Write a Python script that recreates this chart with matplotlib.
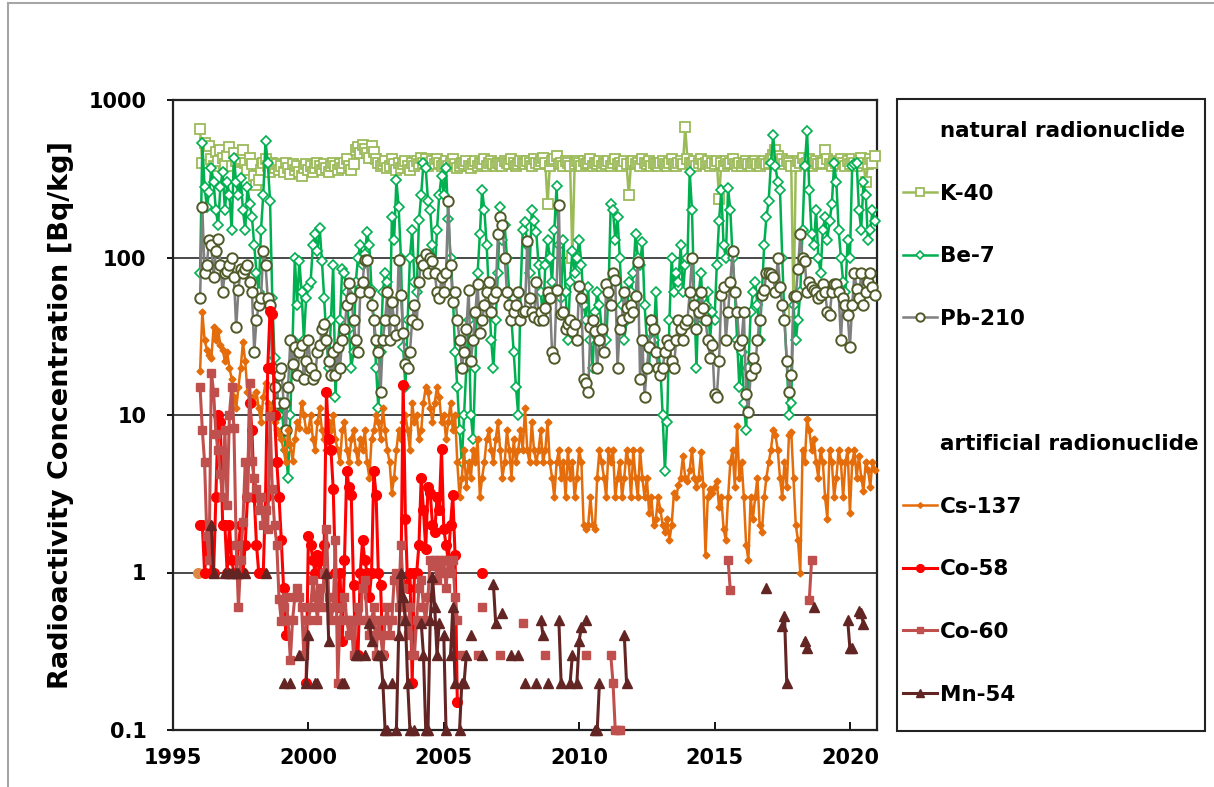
import numpy as np
import matplotlib
matplotlib.use('Agg')
import matplotlib.pyplot as plt
from matplotlib.lines import Line2D
from matplotlib.patches import Rectangle
from matplotlib.ticker import FuncFormatter, NullLocator

plt.rcParams['font.family'] = ['DejaVu Sans']

N = None

# monthly samples, Jan 1996 .. Dec 2020
start_year = 1996
n_months = 300

k40 = [
    650, 400, 530, 450, 510, 420, 380, 470, 410, 480, 430, 390,  # 1996
    440, 500, 380, 460, 410, 350, 420, 480, 400, 360, 430, 390,  # 1997
    330, 290, 310, 360, 400, 420, 380, 350, 400, 370, 390, 360,  # 1998
    380, 350, 400, 370, 340, 390, 360, 380, 350, 330, 370, 390,  # 1999
    360, 380, 350, 370, 400, 380, 360, 390, 370, 350, 380, 400,  # 2000
    380, 360, 390, 370, 400, 420, 380, 360, 390, 480, 500, 460,  # 2001
    520, 490, 460, 430, 510, 470, 420, 400, 380, 390, 410, 370,  # 2002
    380, 420, 390, 360, 400, 370, 390, 410, 380, 360, 400, 380,  # 2003
    410, 390, 430, 400, 420, 380, 400, 410, 390, 420, 400, 380,  # 2004
    390, 410, 380, 400, 420, 390, 370, 380, 400, 390, 410, 380,  # 2005
    370, 390, 410, 380, 400, 390, 420, 380, 400, 410, 390, 380,  # 2006
    400, 390, 380, 410, 400, 390, 420, 400, 380, 390, 410, 400,  # 2007
    390, 410, 400, 380, 420, 400, 390, 410, 430, 400, 220, 380,  # 2008
    410, 420, 440, 390, 400, 380, 410, 400, 380, 100, 390, 410,  # 2009
    400, 380, 410, 390, 400, 420, 380, 400, 390, 410, 380, 400,  # 2010
    390, 410, 380, 400, 420, 390, 400, 380, 410, 390, 250, 400,  # 2011
    410, 390, 400, 380, 420, 400, 390, 410, 380, 400, 390, 380,  # 2012
    400, 410, 390, 380, 400, 420, 390, 380, 400, 410, 390, 670,  # 2013
    420, 400, 390, 410, 380, 400, 420, 390, 400, 410, 380, 400,  # 2014
    390, 410, 235, 400, 380, 410, 390, 400, 420, 390, 380, 400,  # 2015
    380, 400, 410, 390, 380, 400, 410, 390, 380, 400, 410, 390,  # 2016
    400, 420, 450, 480, 440, 400, 420, 390, 410, 400, 380, 45,   # 2017
    380, 410, 400, 430, 390, 400, 420, 380, 400, 410, 390, 400,  # 2018
    400, 480, 420, 390, 380, 410, 400, 390, 420, 400, 380, 410,  # 2019
    390, 420, 400, 380, 410, 430, 400, 300, 390, 420, 400, 440,  # 2020
]

be7 = [
    80, 530, 280, 210, 260, 370, 300, 200, 160, 280, 350, 200,
    300, 250, 150, 430, 300, 250, 320, 200, 150, 280, 220, 180,
    120, 80, 60, 150, 250, 550, 400, 230, 55, 23, 15, 10,
    12, 8, 6, 4, 10, 30, 100, 50, 95, 60, 30, 55,
    65, 70, 120, 140, 110, 155, 95, 55, 30, 20, 40, 90,
    13, 27, 40, 85, 80, 60, 35, 20, 25, 70, 100, 120,
    90, 105, 145, 120, 62, 40, 20, 11, 25, 60, 80, 70,
    30, 180, 130, 310, 210, 100, 27, 15, 40, 100, 150, 70,
    60, 172, 250, 400, 370, 230, 200, 120, 80, 150, 250, 330,
    250, 370, 175, 100, 60, 25, 15, 8, 5, 10, 20, 40,
    10, 7, 20, 80, 140, 270, 200, 120, 60, 30, 20, 40,
    80, 210, 130, 160, 100, 60, 40, 25, 15, 10, 60, 150,
    168, 120, 80, 200, 170, 145, 90, 60, 40, 90, 130, 100,
    70, 150, 285, 120, 55, 130, 60, 30, 70, 110, 80, 100,
    130, 90, 50, 40, 65, 30, 20, 45, 60, 50, 35, 25,
    30, 60, 220, 200, 130, 180, 100, 50, 30, 40, 70, 60,
    80, 140, 100, 90, 125, 50, 30, 20, 40, 30, 60, 25,
    20, 10, 4.4, 9, 40, 100, 60, 80, 70, 120, 60, 90,
    100, 350, 200, 55, 20, 60, 80, 40, 50, 60, 30, 45,
    40, 90, 170, 270, 120, 100, 275, 200, 100, 60, 30, 15,
    25, 12, 8, 20, 45, 60, 70, 50, 30, 60, 120, 180,
    230, 400, 600, 380, 300, 270, 100, 40, 22, 10, 12, 50,
    30, 40, 60, 150, 380, 640, 270, 140, 120, 200, 100, 80,
    150, 180, 130, 170, 220, 400, 300, 150, 100, 70, 60, 130,
    100, 380, 390, 400, 200, 150, 300, 250, 130, 150, 200, 170,
]

pb210 = [
    55, 210, 80, 90, 130, 120, 75, 110, 132, 90, 60, 80,
    82, 90, 100, 75, 36, 62, 85, 80, 85, 90, 70, 60,
    25, 40, 50, 55, 110, 90, 55, 50, 20, 15, 12, 18,
    20, 12, 8, 15, 30, 21, 27, 18, 25, 28, 17, 22,
    30, 20, 17, 18, 25, 28, 35, 38, 30, 22, 18, 25,
    18, 27, 20, 30, 35, 50, 69, 55, 40, 30, 25, 60,
    70, 97, 97, 60, 50, 40, 30, 25, 14, 30, 40, 60,
    30, 52, 40, 32, 97, 58, 33, 21, 20, 25, 40, 50,
    38, 70, 97, 90, 105, 80, 100, 95, 80, 60, 55, 75,
    60, 80, 230, 90, 52, 60, 40, 30, 20, 25, 35, 62,
    22, 30, 45, 68, 33, 40, 50, 60, 70, 45, 55, 60,
    140, 180, 160, 100, 60, 50, 40, 45, 50, 60, 40, 45,
    46, 128, 55, 45, 42, 70, 40, 45, 40, 48, 60, 55,
    25, 23, 62, 216, 44, 45, 35, 38, 40, 34, 38, 30,
    66, 55, 17, 16, 14, 36, 40, 34, 20, 30, 35, 25,
    68, 60, 50, 80, 72, 20, 35, 40, 60, 48, 42, 50,
    45, 57, 93, 17, 30, 13, 20, 27, 40, 35, 25, 20,
    18, 20, 25, 30, 28, 22, 20, 30, 40, 35, 30, 38,
    40, 60, 100, 50, 35, 45, 60, 48, 40, 30, 23, 28,
    13.5, 13, 22, 58, 65, 30, 45, 70, 110, 60, 45, 28,
    30, 45, 13.5, 10.5, 18, 23, 20, 30, 40, 58, 62, 80,
    80, 78, 75, 60, 100, 65, 50, 40, 22, 14, 18, 57,
    57, 85, 140, 100, 95, 60, 70, 65, 62, 60, 55, 58,
    68, 60, 45, 43, 60, 68, 68, 60, 30, 55, 50, 43,
    27, 50, 80, 63, 55, 80, 50, 60, 70, 80, 65, 58,
]

cs137 = [
    19, 45, 30, 26, 24, 23, 36, 30, 34, 28, 26, 22,
    25, 20, 17, 13, 11, 15, 20, 29, 22, 14, 12, 13,
    12, 14, 11, 9, 13, 16, 12, 10, 11, 9, 8, 7.6,
    7, 6, 5, 8, 6.5, 5.1, 7, 9, 8.3, 12, 10, 8,
    8, 10, 7, 6, 9, 11, 8, 7, 6, 9, 8, 10,
    7, 6, 5, 8, 9, 6, 5, 7, 8, 6, 5, 7,
    6, 8, 5, 4, 7, 8, 10, 9, 7, 11, 8, 6,
    5, 3.2, 4, 6, 8, 7, 9, 10, 8, 6, 12, 9,
    10, 7, 8, 12, 15, 14, 11, 9, 12, 15, 13, 9,
    10, 7, 9, 12, 8, 10, 5, 3, 4, 6, 3.5, 5,
    4, 6, 5, 7, 3, 4, 5, 7, 8, 6, 5, 7,
    9, 6, 4, 5, 8, 6, 4, 7, 5, 6, 8, 6,
    11, 6, 5, 9, 6, 5, 6, 8, 5, 6, 9, 5,
    4, 3, 5, 6, 4, 5, 3, 6, 4, 5, 3, 4,
    6, 5, 2, 1.9, 2, 3, 2, 1.9, 4, 6, 5, 4,
    3, 6, 5, 6, 3, 4, 5, 3, 4, 6, 5, 3,
    6, 4, 3, 6, 4, 3, 4, 2.4, 3, 2, 2.2, 3,
    2.5, 2, 1.8, 2.2, 1.6, 2, 3.2, 3, 3.6, 4, 5.5, 4,
    3.8, 4.5, 6, 4, 3.5, 4, 5.8, 3.6, 1.3, 3, 3.4, 3.2,
    3.5, 3.8, 2.6, 3, 1.9, 1.6, 3, 5, 6, 3.5, 8.5, 4,
    5, 3, 1.5, 1.2, 3, 2.2, 3, 4, 2, 1.8, 3, 4,
    5, 6, 8, 7.5, 6, 4, 3, 5, 3.5, 7.5, 7.8, 4,
    2, 1.6, 1.0, 6, 5, 9.5, 8, 6, 7, 5, 4, 6,
    5, 3, 2.2, 6, 5, 3, 4, 6, 5, 3, 5, 6,
    2.4, 5, 6, 4, 5.5, 4, 3.3, 5, 4.5, 3.5, 5, 4.5,
]

# Co-58 1996-2006 (later months not detected)
co58 = [
    2, 2, 1, 1.5, 2, 1, 1, 3, 10, 9, 2, 2,
    1, 2, 1.2, 1, 1, 1.5, 2, 1, 1.5, 3, 12, 8,
    3, 1.5, 1, 1, 1, 3, 20, 46, 44, 10, 5, 3,
    1.6, 0.8, 0.4, N, N, N, N, N, N, N, N, 0.2,
    1.7, 1.5, 1.2, 1.0, 1.3, 1.0, 1.2, 1.5, 14, 7, 6, 3.4,
    1.0, 0.6, 1.0, 0.37, 1.2, 4.4, 3.5, 3.1, 0.83, 0.3, 0.3, 1.0,
    1.6, 1.2, 1.0, 0.7, 1.0, 4.4, 3.1, 1.0, 0.83, 0.3, N, N,
    N, N, N, N, N, 0.86, 15.6, 2.2, 0.8, 1.0, 0.2, 1.0,
    1.0, 1.5, 4, 2.5, 1.4, 3.5, 3.2, 2.0, 1.8, 3, 2.5, 6.1,
    1.9, 1.5, 1.2, 2.0, 3.1, 1.3, 0.15, N, N, N, N, N,
    N, N, N, N, N, 1.0, N, N, N, N, N, N,
]
first_sample_x = [1995.93]
first_sample_y = [1.0]

# Co-60 1996-2005 monthly, then scattered detections (month index, value)
co60 = [
    15, 8, 5, 1.7, 1.2, 18.6, 14, 7.6, 6, 4.2, 3, 8,
    2.7, 10, 15, 8.3, 1.5, 0.6, 1.2, 2.1, 5, 3, 16, 5.1,
    4, 3.4, 2.5, 3, 2, 2.5, 1.9, 9.8, 3.4, 2, 1.5, 0.68,
    0.49, 0.6, 0.7, 0.5, 0.28, 0.5, 0.7, 0.8, 0.7, 0.6, 0.3, 0.5,
    0.5, 0.6, 0.9, 0.7, 0.5, 0.8, 0.6, 1.0, 1.9, 0.7, 0.5, 0.6,
    1.6, 0.2, 0.5, 0.6, 0.7, 0.5, 0.4, 0.5, 0.3, 0.5, 0.6, 0.5,
    0.8, 0.9, 0.5, 0.4, 0.5, 0.6, 0.3, 0.5, 0.4, 0.3, 0.5, 0.6,
    0.4, 0.5, 0.9, 1.0, 0.6, 1.5, 0.8, 0.5, 0.4, 0.6, 0.3, 0.3,
    0.5, 0.8, 0.9, 0.6, 0.5, 0.7, 1.2, 1.1, 1.2, 0.9, 1.2, 1.0,
    1.2, 0.8, 1.2, 1.0, 1.2, 0.7, 0.5, N, 0.3, N, N, N,
]
co60_late_month = [123, 125, 133, 143, 153, 171, 182, 183, 184, 185, 186, 234, 235, 270, 271]
co60_late_value = [0.3, 0.6, 0.3, 0.48, 0.3, 0.3, 0.3, 0.2, 0.1, 0.1, 0.1, 1.2, 0.77, 0.67, 1.2]

mn54_month = [5, 6, 11, 13, 14, 16, 17, 20, 29,
              37, 40, 44, 47, 48, 51, 52, 56, 57,
              63, 64, 69, 70, 73, 75, 76, 79, 80, 81, 82, 83,
              85, 87, 88, 89, 90, 91, 92, 93, 95,
              98, 99, 100, 101, 102, 103, 104, 105, 106,
              108, 109, 111, 112, 113, 115, 116, 117, 118,
              120, 125, 130, 131, 134, 138, 141,
              144, 149, 151, 152, 154, 159, 160, 164, 165, 167,
              168, 169, 171, 175, 176, 177, 188, 189,
              251, 258, 259, 260, 268, 269, 272,
              287, 288, 289, 292, 293, 294]
mn54_value = [2.0, 1.0, 1.0, 1.0, 1.0, 1.0, 1.0, 1.0, 1.0,
              0.2, 0.2, 0.3, 0.2, 0.4, 0.2, 0.2, 1.0, 0.37,
              0.2, 0.2, 0.3, 0.3, 0.3, 0.48, 0.37, 0.3, 0.3, 0.2, 0.1, 0.1,
              0.2, 0.1, 0.4, 1.0, 0.7, 0.5, 0.2, 0.1, 0.1,
              0.48, 0.3, 0.1, 0.1, 0.5, 0.93, 0.6, 0.3, 0.48,
              0.4, 0.1, 0.3, 0.6, 0.2, 0.1, 0.2, 0.2, 0.3,
              0.4, 0.3, 0.84, 0.48, 0.55, 0.3, 0.3,
              0.2, 0.2, 0.5, 0.4, 0.2, 0.5, 0.2, 0.2, 0.3, 0.2,
              0.37, 0.45, 0.5, 0.1, 0.1, 0.2, 0.4, 0.2,
              0.8, 0.46, 0.53, 0.2, 0.37, 0.33, 0.6,
              0.5, 0.33, 0.33, 0.57, 0.55, 0.47]


def monthly(values):
    arr = np.full(n_months, np.nan)
    vals = np.array([np.nan if v is None else v for v in values], dtype=float)
    arr[:len(vals)] = vals
    return arr


def sparse(months, values, base=None):
    arr = np.full(n_months, np.nan) if base is None else base.copy()
    arr[np.array(months)] = values
    return arr


t = start_year + np.arange(n_months) / 12.0

series = [
    ('K-40', monthly(k40), dict(color='#9BBB59', marker='s', ms=6.5, mfc='white', mec='#9BBB59', mew=1.3, lw=1.8)),
    ('Be-7', monthly(be7), dict(color='#00B050', marker='D', ms=4.8, mfc='white', mec='#00B050', mew=1.2, lw=1.8)),
    ('Pb-210', monthly(pb210), dict(color='#7F7F7F', marker='o', ms=7.5, mfc='white', mec='#4F5A28', mew=1.4, lw=1.8)),
    ('Cs-137', monthly(cs137), dict(color='#E46C0A', marker='D', ms=3.5, mfc='#E46C0A', mec='#E46C0A', lw=1.8)),
    ('Co-58', monthly(co58), dict(color='#FF0000', marker='o', ms=7, mfc='#FF0000', mec='#FF0000', lw=2.2)),
    ('Co-60', sparse(co60_late_month, co60_late_value, monthly(co60)),
     dict(color='#C0504D', marker='s', ms=6, mfc='#C0504D', mec='#C0504D', lw=2.2)),
    ('Mn-54', sparse(mn54_month, mn54_value), dict(color='#632523', marker='^', ms=7, mfc='#632523', mec='#632523', lw=2.2)),
]

W, H = 1214, 787
fig = plt.figure(figsize=(W / 100, H / 100), dpi=100)
ax = fig.add_axes([173 / W, 1 - 730 / H, (877 - 173) / W, (730 - 100) / H])

handles = {}
for z, (name, y, style) in enumerate(series):
    h, = ax.plot(t, y, label=name, zorder=3 + z, clip_on=False, **style)
    handles[name] = h
ax.plot(first_sample_x, first_sample_y, 'o', color='#DE8A45', ms=7, zorder=3)

ax.set_yscale('log')
ax.set_ylim(0.1, 1000)
ax.set_xlim(1995, 2021)
ax.set_xticks([1995, 2000, 2005, 2010, 2015, 2020])
ax.yaxis.set_major_formatter(FuncFormatter(lambda v, p: f'{v:g}'))
ax.yaxis.set_minor_locator(NullLocator())
ax.grid(axis='y', which='major', color='#3A3A3A', lw=1.3, zorder=1)
ax.set_axisbelow(True)
for sp in ax.spines.values():
    sp.set_linewidth(1.6)
    sp.set_color('#222222')
ax.tick_params(axis='x', direction='in', length=6, width=1.3, pad=13, labelsize=15)
ax.tick_params(axis='y', direction='out', length=4, width=1.3, pad=15, labelsize=15)
for lab in ax.get_xticklabels() + ax.get_yticklabels():
    lab.set_fontweight('bold')
ax.set_ylabel('Radioactivity Concentration [Bq/kg]', fontsize=19.5, fontweight='bold')
ax.yaxis.set_label_coords(-99 / (877 - 173), 0.5)

# legend: frame drawn separately, entries laid out without frame
blank = Line2D([], [], color='none')
leg_handles = [blank, handles['K-40'], handles['Be-7'], handles['Pb-210'], blank,
               blank, handles['Cs-137'], handles['Co-58'], handles['Co-60'], handles['Mn-54']]
leg_labels = ['natural radionuclide', 'K-40', 'Be-7', 'Pb-210', '',
              'artificial radionuclide', 'Cs-137', 'Co-58', 'Co-60', 'Mn-54']
leg = fig.legend(leg_handles, leg_labels, loc='upper left',
                 bbox_to_anchor=(903 / W, 1 - 121 / H), frameon=False,
                 prop=dict(weight='bold', size=15.5), labelspacing=1.98,
                 handlelength=1.6, handletextpad=0.1, borderpad=0, borderaxespad=0,
                 markerscale=0.8)
fig.add_artist(Rectangle((897 / W, 1 - 731 / H), 308 / W, 632 / H, transform=fig.transFigure,
                         fill=False, edgecolor='#222222', lw=1.5))

# outer chart-area border
fig.add_artist(Line2D([8 / W, 8 / W], [0, 1 - 3 / H], transform=fig.transFigure, color='#A6A6A6', lw=1.5))
fig.add_artist(Line2D([8 / W, 1], [1 - 3 / H, 1 - 3 / H], transform=fig.transFigure, color='#A6A6A6', lw=1.5))

fig.savefig('out.png', dpi=100)
